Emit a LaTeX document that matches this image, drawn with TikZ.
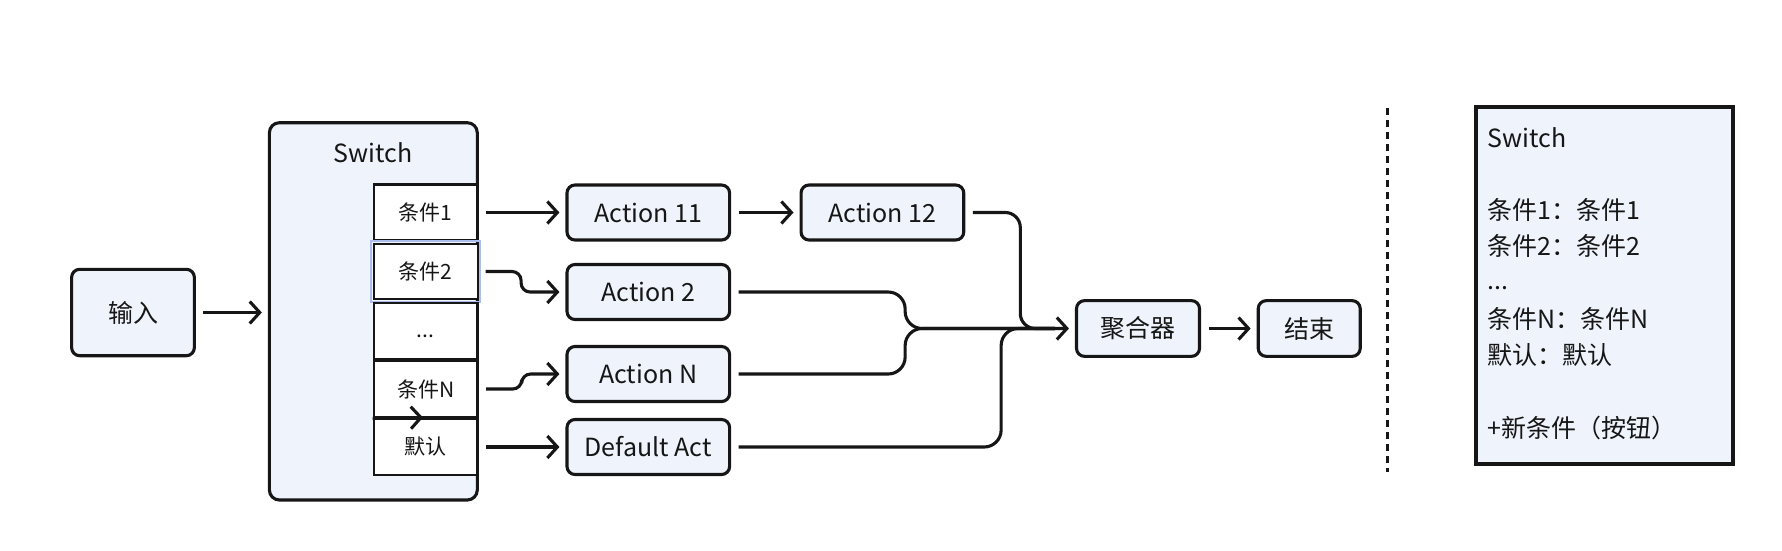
\documentclass[tikz,border=0pt]{standalone}
\usepackage{fontspec}
\setmainfont{Noto Sans CJK SC}
\usetikzlibrary{arrows.meta}
\definecolor{bg}{RGB}{239,243,251}
\definecolor{hl}{RGB}{172,190,238}
\definecolor{ink}{RGB}{22,22,22}
\begin{document}
\begin{tikzpicture}[x=1pt,y=-1pt,
  box/.style={draw=ink, line width=3.1pt, fill=bg, rounded corners=8pt, inner sep=0pt,
    font=\fontsize{25}{30}\selectfont, text=ink},
  cond/.style={draw=ink, line width=2.8pt, fill=white, inner sep=0pt,
    minimum width=103.3pt, minimum height=56pt, font=\fontsize{21}{25}\selectfont,
    text=ink},
  ptext/.style={anchor=west, inner sep=0pt, font=\fontsize{25}{30}\selectfont,
    text=ink},
  tipstyle/.style={-{Straight Barb[length=10pt,width=22pt]}},
  conn/.style={draw=ink, line width=3.1pt, shorten <=7.5pt, shorten >=6pt, tipstyle},
  link/.style={draw=ink, line width=3.1pt, shorten <=7.5pt, shorten >=20pt},
]
\path[use as bounding box] (0,0) rectangle (1782,550);

% input
\node[box, minimum width=122.7pt, minimum height=86.4pt] (in) at (133,312.5) {输入};

% switch container
\node[draw=ink, line width=3.1pt, fill=bg, rounded corners=10pt,
      minimum width=207.9pt, minimum height=377.3pt] (sw) at (373.35,311.35) {};
\node[inner sep=0pt, font=\fontsize{25}{30}\selectfont, text=ink] (swl) at (373.3,152.5) {Switch};

% conditions
\node[cond] (c1) at (425.65,212.5) {条件1};
\node[cond, line width=1.6pt, minimum height=55pt] (c2) at (425.65,271.5) {条件2};
\draw[hl, line width=2pt] ([shift={(-2.2,2.2)}]c2.south west) rectangle ([shift={(2.2,-2.2)}]c2.north east);
\node[cond] (c3) at (425.65,331) {\raisebox{-6pt}[0pt][0pt]{...}};
\node[cond] (cN) at (425.65,389) {条件N};
\node[cond] (cd) at (425.65,447) {默认};
\coordinate (stray) at (423,417.5);
\draw[ink, line width=3.1pt, tipstyle] (cN.south west) -- (stray);

% actions
\node[box, minimum width=162.6pt, minimum height=55pt] (a1) at (648.3,212.5) {Action 11};
\node[box, minimum width=162.7pt, minimum height=55pt] (a12) at (882.4,212.5) {Action 12};
\node[box, minimum width=162.6pt, minimum height=55pt] (a2) at (648.3,292) {Action 2};
\node[box, minimum width=162.6pt, minimum height=55pt] (aN) at (648.3,374) {Action N};
\node[box, minimum width=162.6pt, minimum height=55pt] (de) at (648.3,447) {Default Act};

% aggregator and end
\node[box, minimum width=123pt, minimum height=55.7pt] (agg) at (1138,328.5) {聚合器};
\node[box, minimum width=102pt, minimum height=55.7pt] (end) at (1309.2,328.5) {结束};

% connectors
\draw[conn] (in.east) -- (in.east -| sw.west);
\draw[conn] (c1.east) -- (a1.west);
\draw[conn, rounded corners=9pt] (c2.east) -- ++(43,0) |- (a2.west);
\draw[conn, rounded corners=9pt] (cN.east) -- ++(43,0) |- (aN.west);
\draw[conn] (cd.east) -- (de.west);
\draw[conn] (a1.east) -- (a12.west);
\draw[link, rounded corners=17pt] (a2.east) -- ++(174,0) |- (agg.west);
\draw[link, rounded corners=17pt] (aN.east) -- ++(174,0) |- (agg.west);
\draw[link, rounded corners=17pt] (de.east) -- ++(270,0) |- (agg.west);
\draw[conn, rounded corners=15pt] (a12.east) -- ++(55,0) |- (agg.west);
\draw[conn] (agg.east) -- (end.west);

% separator
\coordinate (d1) at (1387.7,108);
\coordinate (d2) at (1387.7,472);
\draw[ink, line width=3pt, dash pattern=on 7pt off 5pt] (d1) -- (d2);

% right panel
\node[draw=ink, line width=3.5pt, fill=bg, minimum width=257pt, minimum height=357pt,
      inner sep=0pt] (panel) at (1604.5,285.25) {};
\node[ptext] (p1) at (1487.6,137.5) {Switch};
\node[ptext] (p2) at (1487.6,210) {条件1：条件1};
\node[ptext] (p3) at (1487.6,246.4) {条件2：条件2};
\node[ptext] (p4) at (1487.6,288) {...};
\node[ptext] (p5) at (1487.6,319) {条件N：条件N};
\node[ptext] (p6) at (1487.6,355.3) {默认：默认};
\node[ptext] (p7) at (1487.6,428) {+新条件（按钮）};
\end{tikzpicture}
\end{document}
